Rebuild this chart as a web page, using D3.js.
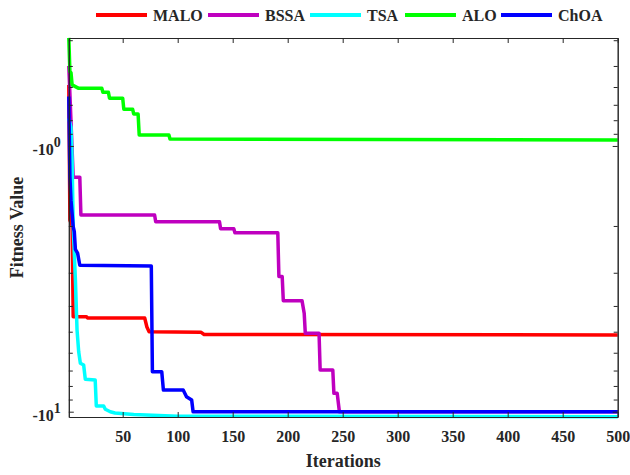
<!DOCTYPE html>
<html>
<head>
<meta charset="utf-8">
<script src="https://cdn.jsdelivr.net/npm/d3@7"></script>
<style>
  body { margin: 0; background: #fff; }
  text { font-family: "Liberation Serif", "Times New Roman", serif; font-weight: bold; fill: #262626; }
</style>
</head>
<body>
<svg id="chart" width="630" height="475"></svg>
<script>
// convergence curves (fitness values are negative)
var maloIter = [1, 2, 4, 5, 17, 18, 70, 72, 74, 121, 124, 500];
var maloVal  = [-0.59, -1.9, -2.0, -4.39, -4.39, -4.44, -4.44, -4.8, -5.0, -5.02, -5.12, -5.14];

var bssaIter = [1, 5, 11, 12, 79, 80, 138, 139, 151, 152, 191, 192, 195, 196, 213, 215, 216, 228.5, 229.5, 241, 242, 245, 247, 500];
var bssaVal  = [-0.5, -1.31, -1.31, -1.818, -1.818, -1.93, -1.93, -2.05, -2.05, -2.12, -2.12, -3.1, -3.1, -3.82, -3.82, -4.26, -5.07, -5.07, -6.97, -6.97, -8.53, -8.53, -10.0, -10.0];

var tsaIter = [1, 3, 4, 5, 7, 8.5, 10, 11.5, 14.5, 16, 25, 26, 32.7, 34.2, 38.7, 43, 60, 100, 500];
var tsaVal  = [-0.787, -0.85, -1.13, -2.0, -3.19, -4.93, -5.95, -6.57, -6.67, -7.55, -7.6, -9.52, -9.52, -9.79, -10.0, -10.11, -10.25, -10.4, -10.44];

var aloIter = [1, 2, 3, 4, 10, 31, 32, 37, 38, 50, 51, 59, 60, 64, 65, 92, 93, 500];
var aloVal  = [-0.392, -0.525, -0.53, -0.589, -0.607, -0.607, -0.628, -0.628, -0.661, -0.661, -0.727, -0.727, -0.758, -0.758, -0.909, -0.909, -0.941, -0.949];

var choaIter = [1, 2, 3, 5, 6, 7, 9, 11, 76, 77, 85.5, 87, 105, 108, 112.7, 114, 500];
var choaVal  = [-0.652, -1.3, -1.6, -2.01, -2.1, -2.45, -2.53, -2.81, -2.83, -7.07, -7.07, -8.29, -8.29, -8.78, -9.03, -10.0, -10.0];

var seriesNames = ["MALO", "BSSA", "TSA", "ALO", "ChOA"];
var seriesColors = ["#ff0000", "#bf00bf", "#00ffff", "#00ff00", "#0000ff"];

var xTicks = [50, 100, 150, 200, 250, 300, 350, 400, 450, 500];
var yMajor = [-1, -10];
var yMinor = [-0.4, -0.5, -0.6, -0.7, -0.8, -0.9, -2, -3, -4, -5, -6, -7, -8, -9];

var series = [
  d3.zip(maloIter, maloVal),
  d3.zip(bssaIter, bssaVal),
  d3.zip(tsaIter, tsaVal),
  d3.zip(aloIter, aloVal),
  d3.zip(choaIter, choaVal)
];

var plotLeft = 68.8, plotRight = 617.7, plotTop = 38, plotBottom = 417;
var svg = d3.select("#chart");

var xScale = d3.scaleLinear().domain([1, 500]).range([plotLeft, plotRight]);
var yScale = d3.scaleLog().domain([-0.3924, -10.47]).range([plotTop, plotBottom]);

// curves
var line = d3.line()
  .x(function(d){ return xScale(d[0]); })
  .y(function(d){ return yScale(d[1]); });

svg.append("g").selectAll("path")
  .data(series)
  .enter().append("path")
  .attr("d", line)
  .attr("fill", "none")
  .attr("stroke", function(d, i){ return seriesColors[i]; })
  .attr("stroke-width", 3.5)
  .attr("stroke-linejoin", "round");

// axes, ticks pointing inward like matlab
function styleAxis(g){
  g.selectAll("path, line").attr("stroke", "#262626").attr("stroke-width", 1);
}

svg.append("g")
  .attr("transform", "translate(0," + plotBottom + ")")
  .call(d3.axisBottom(xScale).tickValues(xTicks).tickSizeInner(-5).tickSizeOuter(0).tickPadding(14))
  .call(styleAxis)
  .selectAll("text").style("font-size", "16px");

svg.append("g")
  .attr("transform", "translate(0," + plotTop + ")")
  .call(d3.axisTop(xScale).tickValues(xTicks).tickSizeInner(-5).tickSizeOuter(0).tickFormat(""))
  .call(styleAxis);

var yLeft = svg.append("g")
  .attr("transform", "translate(" + plotLeft + ",0)")
  .call(d3.axisLeft(yScale).tickValues(yMajor).tickSizeInner(-5).tickSizeOuter(0).tickPadding(8).tickFormat(""))
  .call(styleAxis);

// -10^k labels
yLeft.selectAll(".tick text")
  .style("font-size", "16px")
  .attr("dy", "0.55em")
  .each(function(d){
    var t = d3.select(this);
    t.append("tspan").text("-10");
    t.append("tspan").attr("dy", -8).style("font-size", "14px").text(Math.round(Math.log10(-d)));
  });

svg.append("g")
  .attr("transform", "translate(" + plotLeft + ",0)")
  .call(d3.axisLeft(yScale).tickValues(yMinor).tickSizeInner(-4).tickSizeOuter(0).tickFormat(""))
  .call(styleAxis);

svg.append("g")
  .attr("transform", "translate(" + plotRight + ",0)")
  .call(d3.axisRight(yScale).tickValues(yMajor).tickSizeInner(-5).tickSizeOuter(0).tickFormat(""))
  .call(styleAxis);

svg.append("g")
  .attr("transform", "translate(" + plotRight + ",0)")
  .call(d3.axisRight(yScale).tickValues(yMinor).tickSizeInner(-4).tickSizeOuter(0).tickFormat(""))
  .call(styleAxis);

// axis titles
svg.append("text")
  .attr("x", (plotLeft + plotRight) / 2)
  .attr("y", 467)
  .attr("text-anchor", "middle")
  .style("font-size", "18px")
  .text("Iterations");

svg.append("text")
  .attr("transform", "translate(23," + (plotTop + plotBottom) / 2 + ") rotate(-90)")
  .attr("text-anchor", "middle")
  .style("font-size", "18px")
  .text("Fitness Value");

// legend across the top
var legendX = [96, 208, 310, 405, 501];
var legend = svg.append("g").selectAll("g")
  .data(seriesNames)
  .enter().append("g")
  .attr("transform", function(d, i){ return "translate(" + legendX[i] + ",15)"; });

legend.append("line")
  .attr("x1", 0).attr("x2", 51)
  .attr("stroke", function(d, i){ return seriesColors[i]; })
  .attr("stroke-width", 4);

legend.append("text")
  .attr("x", 57)
  .attr("y", 6)
  .style("font-size", "16px")
  .text(function(d){ return d; });
</script>
</body>
</html>
